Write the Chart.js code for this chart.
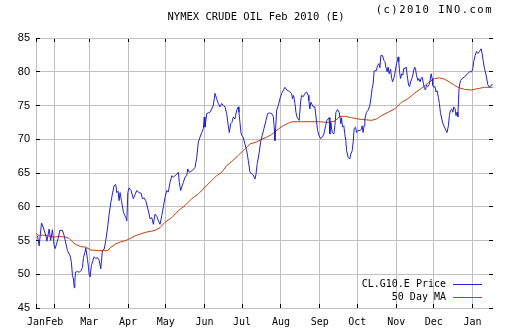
<!DOCTYPE html>
<html>
<head>
<meta charset="utf-8">
<script src="https://cdn.jsdelivr.net/npm/chart.js@4/dist/chart.umd.min.js"></script>
<style>
  html, body { margin: 0; padding: 0; background: #fff; }
  #wrap { position: relative; width: 512px; height: 335px; }
  #copy { position: absolute; right: 19px; top: 3px; font: 10.5px "DejaVu Sans Mono", monospace; letter-spacing: 1.5px; color: #000; }
  .leg { position: absolute; font: 10px "DejaVu Sans Mono", monospace; color: #000; }
  .leg span.t { position: absolute; right: 66px; white-space: nowrap; }
  .leg span.l { position: absolute; right: 30px; width: 29px; height: 1px; }
</style>
</head>
<body>
<div id="wrap">
  <canvas id="chart" width="512" height="335"></canvas>
  <div id="copy">(c)2010 INO.com</div>
  <div id="legend"></div>
</div>
<script>
// x values are days since 1 Jan 2009
const monthStarts = [16.5, 31, 59, 90, 120, 151, 181, 212, 243, 273, 304, 334, 365];
const monthLabels = ["Jan", "Feb", "Mar", "Apr", "May", "Jun", "Jul", "Aug", "Sep", "Oct", "Nov", "Dec", "Jan"];
const yTicks = [45, 50, 55, 60, 65, 70, 75, 80, 85];

const priceDays = [
  17.7,19.0,20.9,22.2,24.4,25.2,27.0,28.2,29.6,31.0,
  31.8,33.2,34.2,35.5,37.6,39.0,41.6,43.8,44.8,45.6,
  46.4,47.0,47.5,48.0,49.6,50.9,52.3,53.6,54.4,55.5,
  56.3,57.6,58.4,58.9,59.7,60.7,61.9,62.9,64.3,65.5,
  66.9,68.2,69.5,70.9,72.2,73.5,74.9,76.2,77.5,78.8,
  80.2,81.0,82.0,82.8,83.6,84.7,86.3,87.4,88.2,89.0,
  89.8,90.8,92.4,94.2,95.6,96.9,98.8,100.4,101.4,102.8,
  104.1,106.2,107.6,108.9,110.2,111.5,112.9,114.2,115.5,116.9,
  118.2,119.5,120.9,122.1,123.5,124.9,126.1,127.5,128.8,130.1,
  130.9,132.0,132.8,134.1,135.5,136.8,137.6,138.9,140.8,143.4,
  144.8,146.1,147.4,148.8,150.1,150.8,151.4,152.8,154.0,155.4,
  156.8,158.0,159.4,160.7,162.0,163.4,164.7,166.0,167.4,168.7,
  170.0,170.8,171.9,172.9,174.0,175.3,176.7,178.0,178.5,179.3,
  180.1,180.7,181.9,183.3,184.7,186.0,187.3,188.7,189.9,191.3,
  192.1,193.1,194.5,195.8,197.1,198.5,200.1,201.4,202.7,204.6,
  205.9,206.7,207.2,207.8,208.6,209.9,211.2,212.6,213.8,215.2,
  216.6,217.8,219.2,220.5,221.3,222.1,223.2,224.0,224.8,225.8,
  226.6,227.7,228.5,229.8,231.2,232.5,233.8,234.3,235.1,235.9,
  237.0,237.8,239.1,239.7,240.5,241.3,242.3,243.7,245.0,246.3,
  247.7,248.7,249.7,250.5,251.1,251.9,252.9,254.3,255.1,255.9,
  257.2,258.5,259.9,260.4,261.2,262.2,263.0,263.8,264.4,265.7,
  267.0,267.8,268.9,269.7,270.5,271.6,272.4,273.6,275.0,276.4,
  276.8,277.6,278.4,279.0,280.3,281.6,283.0,283.8,284.8,285.6,
  286.4,288.3,289.1,290.2,291.0,291.8,293.1,294.2,295.0,295.8,
  296.8,297.6,298.4,299.5,300.3,301.1,302.1,302.9,304.3,305.6,
  306.1,306.7,307.5,308.5,309.3,310.1,311.2,312.0,312.8,313.9,
  314.7,315.5,316.5,317.3,318.6,319.4,320.2,321.3,322.1,323.1,
  323.9,324.7,325.8,326.6,327.4,328.2,329.2,330.6,331.9,332.7,
  333.2,334.0,335.0,335.8,336.6,337.7,338.5,339.3,340.4,341.4,
  342.5,343.8,344.6,345.7,346.5,347.3,348.4,349.2,350.0,351.0,
  351.8,352.6,353.2,353.7,354.2,355.3,357.2,358.5,359.8,361.1,
  362.5,364.3,365.2,365.9,367.0,368.1,369.2,370.5,371.8,372.6,
  373.4,374.5,375.8,377.1,378.5,379.7,381.1
];
const priceVals = [
  55.7,54.2,57.6,57.0,55.7,54.9,56.7,55.0,56.6,54.2,
  53.8,54.7,55.3,56.5,56.5,55.7,53.5,52.7,51.7,49.8,
  49.3,48.0,48.8,50.3,50.4,50.3,50.5,51.0,52.5,53.2,
  53.9,52.2,51.0,50.0,49.6,51.3,52.0,52.6,52.3,52.5,
  52.1,50.8,53.5,53.7,55.0,56.7,58.9,60.6,61.9,63.1,
  63.3,62.1,62.3,60.9,62.1,60.9,59.2,58.7,58.4,57.9,
  62.1,62.8,62.4,61.2,61.8,62.4,62.1,62.0,61.2,61.3,
  60.9,59.4,58.2,58.4,57.4,58.9,58.6,57.9,57.4,58.7,
  60.0,61.4,62.4,62.2,63.6,64.6,64.4,64.6,64.8,65.1,
  63.6,62.4,62.9,63.6,64.4,64.6,65.6,65.1,65.3,65.8,
  67.3,69.6,70.3,71.0,71.6,73.3,71.8,73.8,73.9,74.0,
  74.5,75.0,76.8,76.0,75.3,74.8,75.3,75.0,74.8,73.8,
  72.0,71.0,72.3,72.5,73.3,73.0,74.3,74.8,74.0,72.5,
  71.0,70.6,70.3,69.3,68.3,66.8,65.1,64.9,64.7,64.1,
  64.8,66.4,67.8,69.6,70.6,71.6,72.8,73.8,73.9,73.8,
  73.4,71.6,69.8,71.6,74.3,75.0,76.0,76.8,77.2,77.7,
  77.3,77.2,77.0,76.8,76.0,76.5,75.3,74.0,73.3,73.0,
  72.8,75.5,76.5,76.3,76.8,77.0,76.5,75.7,74.5,75.5,
  75.1,74.8,74.8,73.8,72.5,71.3,70.6,70.1,70.3,70.8,
  72.0,72.8,73.0,73.2,70.8,72.5,71.0,70.8,72.0,74.0,
  74.4,74.0,72.3,73.2,71.8,72.0,70.8,69.8,68.3,67.3,
  67.1,67.8,68.3,69.6,71.6,71.8,71.0,71.3,71.3,71.5,
  72.0,71.0,72.0,73.0,74.0,74.3,75.0,76.0,77.5,78.2,
  80.1,80.2,80.9,81.2,80.6,82.4,82.4,81.7,81.5,80.7,
  80.0,80.7,79.7,80.4,79.2,78.5,79.0,79.7,81.2,82.2,
  81.5,80.0,79.0,79.7,79.5,80.5,80.5,80.7,79.5,78.0,
  77.8,78.5,79.0,79.5,80.7,80.5,79.5,78.7,79.0,78.5,
  79.0,79.2,78.2,77.5,77.3,78.0,77.8,78.2,79.7,79.0,
  78.0,77.7,77.8,77.0,77.2,76.2,75.3,74.0,73.0,72.3,
  71.8,71.3,71.0,72.0,73.5,74.3,74.5,74.0,74.8,74.5,
  73.5,74.0,73.3,75.5,77.5,78.7,79.1,79.2,79.5,79.7,
  80.0,80.0,80.5,81.5,82.4,83.0,82.7,83.0,83.4,82.7,
  81.7,80.5,79.5,78.1,77.7,78.0,78.1
];

const maDays = [16.4,19.0,21.7,25.7,31.0,35.0,40.3,43.0,45.6,48.3,52.3,56.3,60.3,65.5,70.9,73.5,76.2,80.2,84.2,88.2,
  91.6,95.6,103.6,111.5,115.5,119.5,124.9,130.1,135.5,140.8,146.1,151.4,156.8,160.7,164.7,168.7,172.7,178.0,183.3,187.3,
  192.6,196.6,200.6,204.6,209.9,213.8,219.2,221.8,235.9,241.8,249.7,255.1,259.1,263.0,268.4,273.6,279.0,284.3,288.3,292.3,
  297.6,302.9,307.7,313.3,318.6,325.2,330.6,334.6,338.5,342.5,346.5,350.5,354.5,358.5,363.8,369.2,374.5,381.1];
const maVals = [56.1,55.7,55.8,55.7,55.5,55.6,55.5,55.3,54.8,54.4,54.1,54.0,53.6,53.5,53.5,53.5,54.0,54.5,54.8,55.0,
  55.3,55.7,56.2,56.5,56.9,57.7,58.4,59.4,60.2,61.2,61.9,62.9,63.9,64.6,65.1,66.1,66.7,67.6,68.6,69.3,
  69.6,70.0,70.3,70.7,71.5,72.0,72.5,72.6,72.6,72.6,72.5,72.7,73.4,73.4,73.2,73.0,72.9,72.8,73.0,73.5,
  74.0,74.5,75.4,76.0,76.8,77.7,78.5,79.0,79.1,78.9,78.5,78.0,77.6,77.4,77.3,77.5,77.7,77.7];

const seriesNames = ["CL.G10.E Price", "50 Day MA"];
const seriesColors = ["#2222cc", "#c43f0c"];

const toPoints = (xs, ys) => xs.map((x, i) => ({ x: x, y: ys[i] }));
const setMonthTicks = (scale) => { scale.ticks = monthStarts.map((v) => ({ value: v })); };

const gridGray = "#c0c0c0";

const chart = new Chart(document.getElementById("chart").getContext("2d"), {
  type: "line",
  data: {
    datasets: [
      { label: seriesNames[0], data: toPoints(priceDays, priceVals), borderColor: seriesColors[0], borderWidth: 1, pointRadius: 0, tension: 0 },
      { label: seriesNames[1], data: toPoints(maDays, maVals), borderColor: seriesColors[1], borderWidth: 1, pointRadius: 0, tension: 0 },
    ],
  },
  options: {
    responsive: false,
    animation: false,
    devicePixelRatio: 1,
    layout: { padding: 0, autoPadding: false },
    plugins: {
      legend: { display: false },
      tooltip: { enabled: false },
      title: {
        display: true,
        text: "NYMEX CRUDE OIL Feb 2010 (E)",
        color: "#000",
        font: { family: "DejaVu Sans Mono", size: 10.5, weight: "normal", lineHeight: 1 },
        padding: { top: 12, bottom: 0 },
      },
    },
    scales: {
      x: {
        type: "linear",
        position: "bottom",
        min: 16.5,
        max: 381.3,
        afterBuildTicks: setMonthTicks,
        afterFit: (s) => { s.height = 27; },
        grid: { color: gridGray, tickColor: "#000", tickLength: -4 },
        border: { display: false },
        ticks: {
          autoSkip: false,
          maxRotation: 0,
          padding: 12,
          color: "#000",
          font: { family: "DejaVu Sans Mono", size: 10 },
          callback: (v) => monthLabels[monthStarts.indexOf(v)],
        },
      },
      x2: {
        type: "linear",
        position: "top",
        min: 16.5,
        max: 381.3,
        afterBuildTicks: setMonthTicks,
        afterFit: (s) => { s.height = 15.5; },
        grid: { drawOnChartArea: false, tickColor: "#000", tickLength: -4 },
        border: { display: false },
        ticks: { display: false },
      },
      y: {
        position: "left",
        min: 45,
        max: 85,
        afterBuildTicks: (s) => { s.ticks = yTicks.map((v) => ({ value: v })); },
        afterFit: (s) => { s.width = 36; },
        grid: { color: gridGray, tickColor: "#000", tickLength: -4 },
        border: { display: false },
        ticks: { padding: 10, color: "#000", font: { family: "Liberation Sans", size: 11 } },
      },
      y2: {
        position: "right",
        min: 45,
        max: 85,
        afterBuildTicks: (s) => { s.ticks = yTicks.map((v) => ({ value: v })); },
        afterFit: (s) => { s.width = 19; },
        grid: { drawOnChartArea: false, tickColor: "#000", tickLength: -4 },
        border: { display: false },
        ticks: { display: false },
      },
    },
  },
});

// legend in the lower right corner, taken from the datasets
const legend = document.getElementById("legend");
chart.data.datasets.forEach((ds, i) => {
  const row = document.createElement("div");
  row.className = "leg";
  row.style.left = "0px";
  row.style.width = "512px";
  row.style.top = (278 + i * 13) + "px";
  row.innerHTML = '<span class="t">' + ds.label + '</span><span class="l" style="top:6px;background:' + ds.borderColor + '"></span>';
  legend.appendChild(row);
});
</script>
</body>
</html>
